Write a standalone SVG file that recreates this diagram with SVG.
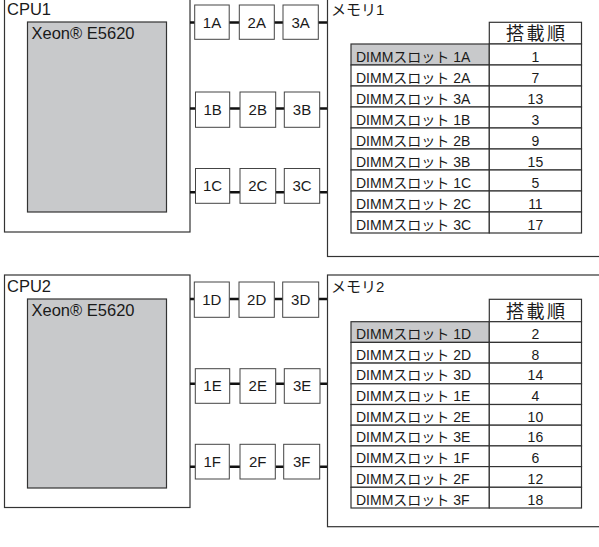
<svg xmlns="http://www.w3.org/2000/svg" width="599" height="547" viewBox="0 0 599 547">
<style>
.frame{fill:#fff;stroke:#333;stroke-width:1.2}
.chip{fill:#c8c9cb;stroke:#333;stroke-width:1.2}
.slot{fill:#fff;stroke:#444;stroke-width:1}
.cell{fill:#fff;stroke:#333;stroke-width:1.2}
.cellg{fill:#c8c9cb;stroke:#333;stroke-width:1.2}
.conn{stroke:#111;stroke-width:2.4;fill:none}
text{font-family:"Liberation Sans","Noto Sans CJK JP",sans-serif;fill:#1a1a1a}
.t16{font-size:16.5px}
.t15{font-size:15px}
.t14{font-size:14px}
.th{font-size:18px}
.mid{text-anchor:middle}
</style>
<rect width="599" height="547" fill="#fff"/>

<g id="cpu1">
<rect class="frame" x="4.5" y="-2" width="185.5" height="234"/>
<text class="t16" x="7" y="15">CPU1</text>
<rect class="chip" x="27.5" y="22" width="139" height="190"/>
<text class="t16" x="31.5" y="39">Xeon® E5620</text>
</g>
<g id="cpu2">
<rect class="frame" x="4.5" y="275" width="185.5" height="232.5"/>
<text class="t16" x="7" y="292">CPU2</text>
<rect class="chip" x="27.5" y="299" width="139" height="189"/>
<text class="t16" x="31.5" y="316">Xeon® E5620</text>
</g>

<g id="connectors">
<path class="conn" d="M190 22.5H195M229 22.5H239.5M274 22.5H283M318 22.5H327.5"/>
<path class="conn" d="M190 108.5H195.5M229.5 108.5H240M275.5 108.5H284.5M319.5 108.5H327.5"/>
<path class="conn" d="M190 192.3H195.5M229.5 192.3H240M275.5 192.3H284.5M319.5 192.3H327.5"/>
<path class="conn" d="M190 299H194.5M229.5 299H239M274.5 299H283M318.5 299H327.5"/>
<path class="conn" d="M190 383.7H195.5M229.5 383.7H240M275.5 383.7H284.5M320 383.7H327.5"/>
<path class="conn" d="M190 466.7H195.5M229.5 466.7H240M275.5 466.7H284M319.5 466.7H327.5"/>
</g>

<g id="slot-1A"><rect class="slot" x="194.7" y="5" width="34.5" height="34.3"/><text class="t15 mid" x="212" y="27.7">1A</text></g>
<g id="slot-2A"><rect class="slot" x="239.3" y="5" width="35" height="34.3"/><text class="t15 mid" x="256.8" y="27.7">2A</text></g>
<g id="slot-3A"><rect class="slot" x="283" y="5" width="35.3" height="34.3"/><text class="t15 mid" x="300.7" y="27.7">3A</text></g>

<g id="slot-1B"><rect class="slot" x="195.5" y="92" width="34.2" height="35.3"/><text class="t15 mid" x="212.6" y="114.5">1B</text></g>
<g id="slot-2B"><rect class="slot" x="240" y="92" width="35.7" height="35.3"/><text class="t15 mid" x="257.8" y="114.5">2B</text></g>
<g id="slot-3B"><rect class="slot" x="284.3" y="92" width="35.4" height="35.3"/><text class="t15 mid" x="302" y="114.5">3B</text></g>

<g id="slot-1C"><rect class="slot" x="195.5" y="168.5" width="34.2" height="34.8"/><text class="t15 mid" x="212.6" y="191.3">1C</text></g>
<g id="slot-2C"><rect class="slot" x="240" y="168.5" width="35.7" height="34.8"/><text class="t15 mid" x="257.8" y="191.3">2C</text></g>
<g id="slot-3C"><rect class="slot" x="284.3" y="168.5" width="35.4" height="34.8"/><text class="t15 mid" x="302" y="191.3">3C</text></g>

<g id="slot-1D"><rect class="slot" x="194.3" y="282" width="35" height="35.3"/><text class="t15 mid" x="211.8" y="304.7">1D</text></g>
<g id="slot-2D"><rect class="slot" x="239" y="282" width="35.3" height="35.3"/><text class="t15 mid" x="256.7" y="304.7">2D</text></g>
<g id="slot-3D"><rect class="slot" x="282.7" y="282" width="36" height="35.3"/><text class="t15 mid" x="300.7" y="304.7">3D</text></g>

<g id="slot-1E"><rect class="slot" x="195.3" y="368.7" width="34.4" height="34.6"/><text class="t15 mid" x="212.5" y="391.3">1E</text></g>
<g id="slot-2E"><rect class="slot" x="240" y="368.7" width="35.7" height="34.6"/><text class="t15 mid" x="257.8" y="391.3">2E</text></g>
<g id="slot-3E"><rect class="slot" x="284.3" y="368.7" width="35.7" height="34.6"/><text class="t15 mid" x="302.2" y="391.3">3E</text></g>

<g id="slot-1F"><rect class="slot" x="195.3" y="444.3" width="34" height="34.7"/><text class="t15 mid" x="212.3" y="467">1F</text></g>
<g id="slot-2F"><rect class="slot" x="240" y="444.3" width="35.3" height="34.7"/><text class="t15 mid" x="257.7" y="467">2F</text></g>
<g id="slot-3F"><rect class="slot" x="283.7" y="444.3" width="36" height="34.7"/><text class="t15 mid" x="301.7" y="467">3F</text></g>

<g id="memory1">
<rect class="frame" x="327.5" y="-2" width="290" height="258.5"/>
<text class="t15" x="331" y="15">メモリ1</text>
<rect class="cell" x="489.3" y="22.3" width="92.2" height="21.7"/>
<text class="th mid" x="535.4" y="40" textLength="59" lengthAdjust="spacing">搭載順</text>
<rect class="cellg" x="351" y="44" width="138.3" height="21"/><rect class="cell" x="489.3" y="44" width="92.2" height="21"/>
<text class="t14" x="356" y="61.5">DIMMスロット 1A</text><text class="t14 mid" x="535.4" y="61.5">1</text>
<rect class="cell" x="351" y="65" width="138.3" height="21"/><rect class="cell" x="489.3" y="65" width="92.2" height="21"/>
<text class="t14" x="356" y="82.5">DIMMスロット 2A</text><text class="t14 mid" x="535.4" y="82.5">7</text>
<rect class="cell" x="351" y="86" width="138.3" height="21"/><rect class="cell" x="489.3" y="86" width="92.2" height="21"/>
<text class="t14" x="356" y="103.5">DIMMスロット 3A</text><text class="t14 mid" x="535.4" y="103.5">13</text>
<rect class="cell" x="351" y="107" width="138.3" height="21"/><rect class="cell" x="489.3" y="107" width="92.2" height="21"/>
<text class="t14" x="356" y="124.5">DIMMスロット 1B</text><text class="t14 mid" x="535.4" y="124.5">3</text>
<rect class="cell" x="351" y="128" width="138.3" height="21"/><rect class="cell" x="489.3" y="128" width="92.2" height="21"/>
<text class="t14" x="356" y="145.5">DIMMスロット 2B</text><text class="t14 mid" x="535.4" y="145.5">9</text>
<rect class="cell" x="351" y="149" width="138.3" height="21"/><rect class="cell" x="489.3" y="149" width="92.2" height="21"/>
<text class="t14" x="356" y="166.5">DIMMスロット 3B</text><text class="t14 mid" x="535.4" y="166.5">15</text>
<rect class="cell" x="351" y="170" width="138.3" height="21"/><rect class="cell" x="489.3" y="170" width="92.2" height="21"/>
<text class="t14" x="356" y="187.5">DIMMスロット 1C</text><text class="t14 mid" x="535.4" y="187.5">5</text>
<rect class="cell" x="351" y="191" width="138.3" height="21"/><rect class="cell" x="489.3" y="191" width="92.2" height="21"/>
<text class="t14" x="356" y="208.5">DIMMスロット 2C</text><text class="t14 mid" x="535.4" y="208.5">11</text>
<rect class="cell" x="351" y="212" width="138.3" height="21"/><rect class="cell" x="489.3" y="212" width="92.2" height="21"/>
<text class="t14" x="356" y="229.5">DIMMスロット 3C</text><text class="t14 mid" x="535.4" y="229.5">17</text>
</g>

<g id="memory2">
<rect class="frame" x="327.5" y="275" width="290" height="251.7"/>
<text class="t15" x="331" y="292">メモリ2</text>
<rect class="cell" x="489.3" y="299.3" width="92.2" height="22.4"/>
<text class="th mid" x="535.4" y="317.5" textLength="59" lengthAdjust="spacing">搭載順</text>
<rect class="cellg" x="351" y="321.7" width="138.3" height="20.7"/><rect class="cell" x="489.3" y="321.7" width="92.2" height="20.7"/>
<text class="t14" x="356" y="338.9">DIMMスロット 1D</text><text class="t14 mid" x="535.4" y="338.9">2</text>
<rect class="cell" x="351" y="342.4" width="138.3" height="20.7"/><rect class="cell" x="489.3" y="342.4" width="92.2" height="20.7"/>
<text class="t14" x="356" y="359.6">DIMMスロット 2D</text><text class="t14 mid" x="535.4" y="359.6">8</text>
<rect class="cell" x="351" y="363.1" width="138.3" height="20.7"/><rect class="cell" x="489.3" y="363.1" width="92.2" height="20.7"/>
<text class="t14" x="356" y="380.3">DIMMスロット 3D</text><text class="t14 mid" x="535.4" y="380.3">14</text>
<rect class="cell" x="351" y="383.8" width="138.3" height="20.7"/><rect class="cell" x="489.3" y="383.8" width="92.2" height="20.7"/>
<text class="t14" x="356" y="401">DIMMスロット 1E</text><text class="t14 mid" x="535.4" y="401">4</text>
<rect class="cell" x="351" y="404.5" width="138.3" height="20.7"/><rect class="cell" x="489.3" y="404.5" width="92.2" height="20.7"/>
<text class="t14" x="356" y="421.7">DIMMスロット 2E</text><text class="t14 mid" x="535.4" y="421.7">10</text>
<rect class="cell" x="351" y="425.2" width="138.3" height="20.7"/><rect class="cell" x="489.3" y="425.2" width="92.2" height="20.7"/>
<text class="t14" x="356" y="442.4">DIMMスロット 3E</text><text class="t14 mid" x="535.4" y="442.4">16</text>
<rect class="cell" x="351" y="445.9" width="138.3" height="20.7"/><rect class="cell" x="489.3" y="445.9" width="92.2" height="20.7"/>
<text class="t14" x="356" y="463.1">DIMMスロット 1F</text><text class="t14 mid" x="535.4" y="463.1">6</text>
<rect class="cell" x="351" y="466.6" width="138.3" height="20.7"/><rect class="cell" x="489.3" y="466.6" width="92.2" height="20.7"/>
<text class="t14" x="356" y="483.8">DIMMスロット 2F</text><text class="t14 mid" x="535.4" y="483.8">12</text>
<rect class="cell" x="351" y="487.3" width="138.3" height="20.7"/><rect class="cell" x="489.3" y="487.3" width="92.2" height="20.7"/>
<text class="t14" x="356" y="504.5">DIMMスロット 3F</text><text class="t14 mid" x="535.4" y="504.5">18</text>
</g>
</svg>
